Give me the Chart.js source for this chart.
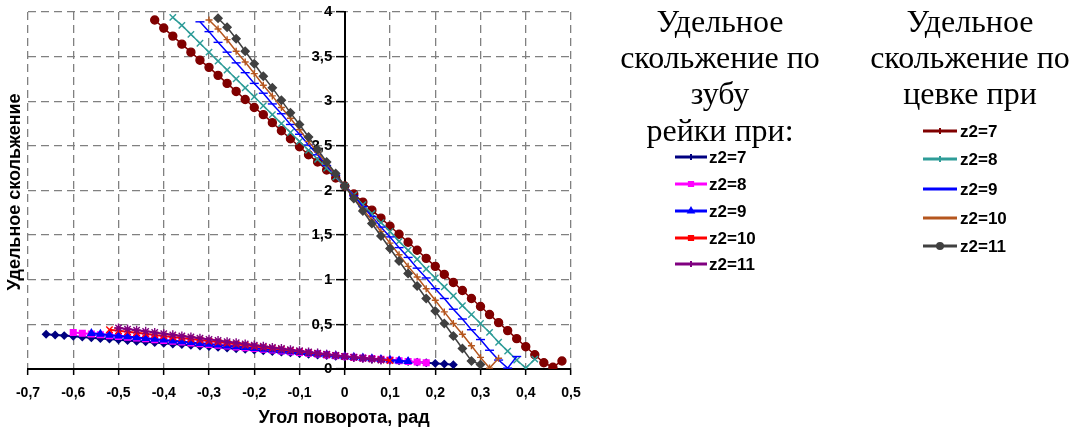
<!DOCTYPE html>
<html>
<head>
<meta charset="utf-8">
<script src="https://cdn.jsdelivr.net/npm/chart.js"></script>
<style>
  html, body { margin: 0; padding: 0; background: #fff; }
  canvas { display: block; }
</style>
</head>
<body>
<canvas id="c" width="1076" height="432"></canvas>
<script>
const _ = null;

// угол поворота, рад (общая сетка для всех кривых)
const angle = [
  -0.66, -0.64, -0.62, -0.60, -0.58, -0.56, -0.54, -0.52, -0.50, -0.48,
  -0.46, -0.44, -0.42, -0.40, -0.38, -0.36, -0.34, -0.32, -0.30, -0.28,
  -0.26, -0.24, -0.22, -0.20, -0.18, -0.16, -0.14, -0.12, -0.10, -0.08,
  -0.06, -0.04, -0.02, 0.00, 0.02, 0.04, 0.06, 0.08, 0.10, 0.12,
  0.14, 0.16, 0.18, 0.20, 0.22, 0.24, 0.26, 0.28, 0.30, 0.32,
  0.34, 0.36, 0.38, 0.40, 0.42, 0.44, 0.46, 0.48
];

// удельное скольжение по зубу рейки
const rackZ7 = [
  0.389, 0.381, 0.374, 0.366, 0.358, 0.351, 0.343, 0.335, 0.328, 0.320,
  0.312, 0.304, 0.297, 0.289, 0.281, 0.274, 0.266, 0.258, 0.251, 0.243,
  0.235, 0.227, 0.220, 0.212, 0.204, 0.197, 0.189, 0.181, 0.174, 0.166,
  0.158, 0.150, 0.143, 0.135, 0.128, 0.121, 0.113, 0.106, 0.099, 0.092,
  0.085, 0.077, 0.070, 0.063, 0.056, 0.049, _, _, _, _,
  _, _, _, _, _, _, _, _
];
const rackZ8 = [
  _, _, _, 0.410, 0.401, 0.392, 0.383, 0.374, 0.365, 0.356,
  0.347, 0.338, 0.329, 0.320, 0.311, 0.302, 0.293, 0.284, 0.275, 0.266,
  0.257, 0.248, 0.239, 0.230, 0.221, 0.212, 0.203, 0.194, 0.185, 0.176,
  0.167, 0.158, 0.149, 0.140, 0.132, 0.124, 0.117, 0.109, 0.101, 0.093,
  0.085, 0.078, 0.070, _, _, _, _, _, _, _,
  _, _, _, _, _, _, _, _
];
const rackZ9 = [
  _, _, _, _, _, 0.400, 0.391, 0.381, 0.372, 0.363,
  0.353, 0.344, 0.335, 0.326, 0.316, 0.307, 0.298, 0.288, 0.279, 0.270,
  0.261, 0.251, 0.242, 0.233, 0.224, 0.214, 0.205, 0.196, 0.186, 0.177,
  0.168, 0.159, 0.149, 0.140, 0.132, 0.124, 0.116, 0.108, 0.100, 0.092,
  0.085, _, _, _, _, _, _, _, _, _,
  _, _, _, _, _, _, _, _
];
const rackZ10 = [
  _, _, _, _, _, _, _, 0.440, 0.428, 0.417,
  0.405, 0.394, 0.382, 0.371, 0.359, 0.348, 0.336, 0.325, 0.313, 0.302,
  0.290, 0.278, 0.267, 0.255, 0.244, 0.232, 0.221, 0.209, 0.198, 0.186,
  0.175, 0.163, 0.152, 0.140, 0.131, 0.122, 0.113, 0.104, 0.095, _,
  _, _, _, _, _, _, _, _, _, _,
  _, _, _, _, _, _, _, _
];
const rackZ11 = [
  _, _, _, _, _, _, _, _, 0.460, 0.447,
  0.434, 0.422, 0.409, 0.396, 0.383, 0.370, 0.358, 0.345, 0.332, 0.319,
  0.306, 0.294, 0.281, 0.268, 0.255, 0.242, 0.230, 0.217, 0.204, 0.191,
  0.178, 0.166, 0.153, 0.140, 0.130, 0.120, 0.110, 0.100, _, _,
  _, _, _, _, _, _, _, _, _, _,
  _, _, _, _, _, _, _, _
];

// удельное скольжение по цевке
const pinZ7 = [
  _, _, _, _, _, _, _, _, _, _,
  _, _, 3.91, 3.82, 3.73, 3.64, 3.55, 3.46, 3.38, 3.29,
  3.20, 3.11, 3.02, 2.93, 2.85, 2.76, 2.67, 2.58, 2.49, 2.40,
  2.32, 2.23, 2.14, 2.05, 1.96, 1.87, 1.78, 1.69, 1.60, 1.51,
  1.42, 1.33, 1.24, 1.15, 1.06, 0.97, 0.88, 0.79, 0.70, 0.61,
  0.52, 0.43, 0.34, 0.25, 0.16, 0.07, 0.02, 0.09
];
const pinZ8 = [
  _, _, _, _, _, _, _, _, _, _,
  _, _, _, _, 3.94, 3.85, 3.75, 3.65, 3.55, 3.45,
  3.35, 3.25, 3.15, 3.05, 2.95, 2.85, 2.75, 2.65, 2.55, 2.45,
  2.35, 2.25, 2.15, 2.05, 1.95, 1.84, 1.74, 1.64, 1.54, 1.43,
  1.33, 1.23, 1.12, 1.02, 0.92, 0.82, 0.71, 0.61, 0.51, 0.41,
  0.30, 0.20, 0.10, 0.01, 0.11, _, _, _
];
const pinZ9 = [
  _, _, _, _, _, _, _, _, _, _,
  _, _, _, _, _, _, _, 3.89, 3.78, 3.66,
  3.55, 3.43, 3.32, 3.20, 3.09, 2.97, 2.86, 2.74, 2.63, 2.51,
  2.40, 2.28, 2.17, 2.05, 1.94, 1.82, 1.71, 1.59, 1.48, 1.36,
  1.25, 1.13, 1.02, 0.90, 0.79, 0.67, 0.56, 0.44, 0.33, 0.21,
  0.10, 0.01, 0.14, _, _, _, _, _
];
const pinZ10 = [
  _, _, _, _, _, _, _, _, _, _,
  _, _, _, _, _, _, _, _, 3.91, 3.81,
  3.69, 3.56, 3.44, 3.31, 3.18, 3.06, 2.93, 2.81, 2.68, 2.55,
  2.43, 2.30, 2.18, 2.05, 1.92, 1.79, 1.67, 1.54, 1.41, 1.28,
  1.15, 1.03, 0.90, 0.77, 0.64, 0.51, 0.39, 0.26, 0.13, 0.01,
  0.12, _, _, _, _, _, _, _
];
const pinZ11 = [
  _, _, _, _, _, _, _, _, _, _,
  _, _, _, _, _, _, _, _, _, 3.93,
  3.83, 3.70, 3.56, 3.42, 3.28, 3.15, 3.01, 2.87, 2.74, 2.60,
  2.46, 2.32, 2.19, 2.05, 1.91, 1.77, 1.63, 1.49, 1.35, 1.21,
  1.07, 0.93, 0.79, 0.65, 0.51, 0.37, 0.23, 0.09, 0.05, _,
  _, _, _, _, _, _, _, _
];

const seriesLabels = ['z2=7', 'z2=8', 'z2=9', 'z2=10', 'z2=11'];
const rackTitle = ['Удельное', 'скольжение по', 'зубу', 'рейки при:'];
const pinTitle = ['Удельное', 'скольжение по', 'цевке при'];
const xTitle = 'Угол поворота, рад';
const yTitle = 'Удельное скольжение';

const rackData = [rackZ7, rackZ8, rackZ9, rackZ10, rackZ11];
const pinData = [pinZ7, pinZ8, pinZ9, pinZ10, pinZ11];

// styles
const rackStyle = [
  { color: '#000080', mark: 'rectRot', r: 3.5, mini: 'cross' },
  { color: '#ff00ff', mark: 'rect', r: 4, mini: 'rect' },
  { color: '#0000ff', mark: 'triangle', r: 4, mini: 'triangle' },
  { color: '#ff0000', mark: 'crossRot', r: 4.5, mini: 'rect' },
  { color: '#800080', mark: 'star', r: 4.5, mini: 'cross' }
];
const pinStyle = [
  { color: '#800000', mark: 'circle', r: 4, mini: 'cross' },
  { color: '#2e9c98', mark: 'crossRot', r: 4.5, mini: 'cross' },
  { color: '#0000ff', mark: 'line', r: 4.5, mini: 'line' },
  { color: '#b5561e', mark: 'cross', r: 3.5, mini: null },
  { color: '#404040', mark: 'rectRot', r: 4, mini: 'circle' }
];

function points(ys) {
  return angle.map((x, i) => ({ x: x, y: ys[i] })).filter(p => p.y !== null);
}

const datasets = [];
pinData.forEach((ys, i) => {
  const s = pinStyle[i];
  datasets.push({
    label: 'цевка ' + seriesLabels[i],
    data: points(ys),
    showLine: true,
    borderColor: s.color,
    backgroundColor: s.color,
    borderWidth: 1.5,
    pointStyle: s.mark,
    pointRadius: s.r,
    pointBorderWidth: 1.4,
    order: 20 - i
  });
});
rackData.forEach((ys, i) => {
  const s = rackStyle[i];
  datasets.push({
    label: 'рейка ' + seriesLabels[i],
    data: points(ys),
    showLine: true,
    borderColor: s.color,
    backgroundColor: s.color,
    borderWidth: 2,
    pointStyle: s.mark,
    pointRadius: s.r,
    pointBorderWidth: 1.4,
    order: 10 - i
  });
});

function fmt(v) {
  const r = Math.round(v * 10) / 10;
  return String(r).replace('.', ',');
}

const SANS = '"Liberation Sans", Arial, sans-serif';
const SERIF = '"Liberation Serif", "Times New Roman", serif';

function drawSample(ctx, s, x1, x2, y) {
  ctx.save();
  ctx.strokeStyle = s.color;
  ctx.fillStyle = s.color;
  ctx.lineWidth = 3;
  ctx.beginPath();
  ctx.moveTo(x1, y);
  ctx.lineTo(x2, y);
  ctx.stroke();
  if (s.mini && Chart.helpers && Chart.helpers.drawPoint) {
    ctx.lineWidth = 2;
    Chart.helpers.drawPoint(ctx, { pointStyle: s.mini, radius: 3, borderWidth: 2, rotation: 0 }, (x1 + x2) / 2, y);
  }
  ctx.restore();
}

const annotations = {
  id: 'annotations',
  afterDraw(chart) {
    const ctx = chart.ctx;
    ctx.save();
    ctx.fillStyle = '#000';

    // axis titles
    ctx.font = 'bold 18px ' + SANS;
    ctx.textAlign = 'center';
    ctx.textBaseline = 'middle';
    ctx.fillText(xTitle, 344, 418);
    ctx.save();
    ctx.translate(15, 192);
    ctx.rotate(-Math.PI / 2);
    ctx.fillText(yTitle, 0, 0);
    ctx.restore();

    // legend titles
    ctx.font = '32px ' + SERIF;
    ctx.textBaseline = 'alphabetic';
    const base = [32, 68, 104, 141];
    rackTitle.forEach((t, i) => ctx.fillText(t, 720, base[i]));
    pinTitle.forEach((t, i) => ctx.fillText(t, 970, base[i]));

    // legend entries
    ctx.font = 'bold 17px ' + SANS;
    ctx.textAlign = 'left';
    ctx.textBaseline = 'middle';
    const rackRows = [157, 184, 211, 238, 264];
    const pinRows = [131, 159, 189, 218, 246];
    seriesLabels.forEach((lab, i) => {
      drawSample(ctx, rackStyle[i], 675, 707, rackRows[i]);
      ctx.fillStyle = '#000';
      ctx.fillText(lab, 709, rackRows[i] + 1);
      drawSample(ctx, pinStyle[i], 923, 957, pinRows[i]);
      ctx.fillStyle = '#000';
      ctx.fillText(lab, 960, pinRows[i] + 1);
    });
    ctx.restore();
  }
};

new Chart(document.getElementById('c'), {
  type: 'scatter',
  data: { datasets: datasets },
  options: {
    responsive: false,
    animation: false,
    devicePixelRatio: 1,
    layout: { padding: { left: 28, right: 505, top: 9, bottom: 0 } },
    plugins: {
      legend: { display: false },
      tooltip: { enabled: false }
    },
    scales: {
      x: {
        type: 'linear',
        position: 'bottom',
        min: -0.7,
        max: 0.5,
        afterFit: s => { s.height = 63; },
        ticks: {
          stepSize: 0.1,
          color: '#000',
          padding: 10,
          maxRotation: 0,
          font: { family: SANS, size: 14, weight: 'bold' },
          callback: v => fmt(v)
        },
        grid: {
          color: '#808080',
          lineWidth: 1.3,
          tickColor: '#000',
          tickLength: 6,
          tickWidth: 1.5,
          tickBorderDash: []
        },
        border: { display: true, color: '#000', width: 2, dash: [8, 5] }
      },
      y: {
        type: 'linear',
        position: { x: 0 },
        min: 0,
        max: 4,
        ticks: {
          stepSize: 0.5,
          color: '#000',
          font: { family: SANS, size: 15, weight: 'bold' },
          // label sits left of the axis at the crossing, keep a gap
          callback: v => fmt(v) + '   '
        },
        grid: {
          color: '#808080',
          lineWidth: 1.3,
          tickColor: '#000',
          tickLength: 8,
          tickWidth: 1.5,
          tickBorderDash: []
        },
        border: { display: true, color: '#000', width: 2, dash: [8, 5] }
      }
    }
  },
  plugins: [annotations]
});
</script>
</body>
</html>
